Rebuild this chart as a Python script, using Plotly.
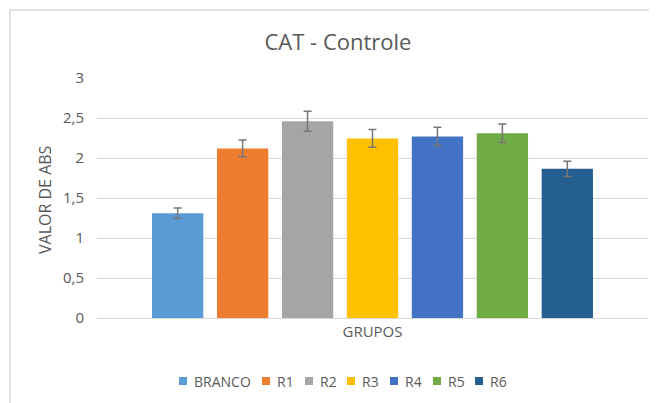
import plotly.graph_objects as go

series_names = ["BRANCO", "R1", "R2", "R3", "R4", "R5", "R6"]
values = [1.31, 2.12, 2.46, 2.245, 2.27, 2.31, 1.865]
errors = [0.065, 0.105, 0.125, 0.11, 0.115, 0.115, 0.095]
colors = ["#5B9BD5", "#ED7D31", "#A5A5A5", "#FFC000", "#4472C4", "#70AD47", "#255E91"]
category = ["GRUPOS"]
y_ticks = [0, 0.5, 1, 1.5, 2, 2.5, 3]
y_tick_labels = ["0", "0,5", "1", "1,5", "2", "2,5", "3"]

# the page body has a default 8px margin; compensate so the figure
# lands where the reference chart is within the 657x403 window
OFF = 8
VW, VH = 657, 403
W, H = VW - OFF, VH - OFF
# plot area in window pixels: x 97..648, y 78..318
ML = 97 - OFF
MT = 78 - OFF
MR = W - (648 - OFF)
MB = H - (318 - OFF)
PW = W - ML - MR
PH = H - MT - MB


def px_x(p):
    """window pixel x -> paper x"""
    return (p - OFF - ML) / PW


def px_y(p):
    """window pixel y -> paper y"""
    return (H - MB - (p - OFF)) / PH


font_family = "Open Sans, Noto Sans, sans-serif"
TXT = "#595959"

fig = go.Figure()
for name, v, e, c in zip(series_names, values, errors, colors):
    fig.add_trace(go.Bar(
        name=name, x=category, y=[v], showlegend=False,
        marker=dict(color=c, line=dict(width=0)),
        error_y=dict(type="data", array=[e], visible=True,
                     color="#767676", thickness=1.5, width=4),
    ))

# custom compact legend (Excel style): small square + label
legend_x = [179, 262, 305, 347, 390, 433, 475]
legend_y = 381
sq = 8
shapes = [dict(type="path", xref="paper", yref="paper",
               path=f"M {px_x(10)} {px_y(420)} L {px_x(10)} {px_y(10)} L {px_x(670)} {px_y(10)}",
               line=dict(color="#d9d9d9", width=1.5))]
annotations = [dict(text="VALOR DE ABS", textangle=-90, x=px_x(45), y=px_y(199),
                    xref="paper", yref="paper", showarrow=False,
                    font=dict(size=16, color=TXT),
                    xanchor="center", yanchor="middle")]
for name, c, lx in zip(series_names, colors, legend_x):
    shapes.append(dict(type="rect", xref="paper", yref="paper",
                       x0=px_x(lx), x1=px_x(lx + sq),
                       y0=px_y(legend_y - sq / 2), y1=px_y(legend_y + sq / 2),
                       fillcolor=c, line=dict(width=0)))
    annotations.append(dict(text=name, x=px_x(lx + sq + 5), y=px_y(legend_y),
                            xref="paper", yref="paper", showarrow=False,
                            xanchor="left", yanchor="middle",
                            font=dict(size=14, color=TXT)))

fig.update_layout(
    width=W, height=H,
    margin=dict(l=ML, r=MR, t=MT, b=MB, autoexpand=False),
    paper_bgcolor="white", plot_bgcolor="white",
    barmode="group", bargap=0.175, bargroupgap=0.21,
    font=dict(family=font_family, color=TXT),
    title=dict(text="CAT - Controle", x=(338 - OFF) / W, xref="container", xanchor="center",
               y=1 - (42 - OFF) / H, yref="container", yanchor="middle",
               font=dict(size=22, color=TXT, family=font_family)),
    showlegend=False,
    xaxis=dict(showgrid=False, showline=True, linecolor="#d9d9d9", linewidth=1,
               tickfont=dict(size=15, color=TXT), ticks="", automargin=False),
    yaxis=dict(range=[0, 3], tickvals=y_ticks, ticktext=y_tick_labels,
               showgrid=True, gridcolor="#d9d9d9", gridwidth=1,
               zeroline=False, showline=False, automargin=False,
               tickfont=dict(size=15, color=TXT), ticklabelstandoff=12),
    annotations=annotations,
    shapes=shapes,
)

fig.write_html("out.html")
